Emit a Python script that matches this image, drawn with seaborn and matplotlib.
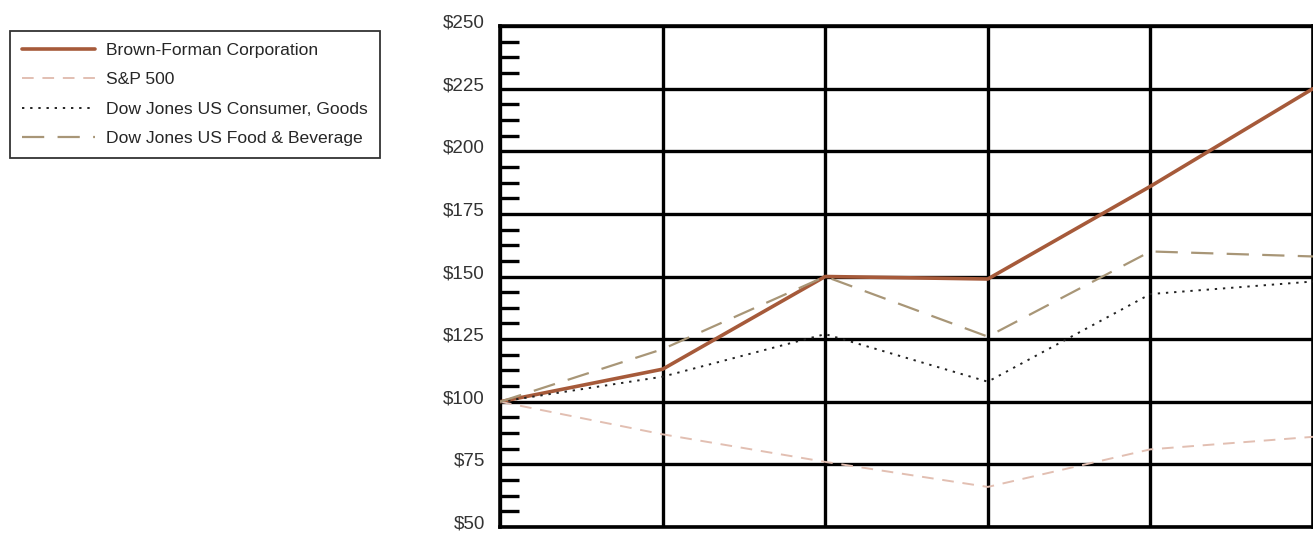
import matplotlib
matplotlib.use("Agg")
import matplotlib.pyplot as plt
import matplotlib.transforms as mtransforms
import seaborn as sns
import pandas as pd
from matplotlib.ticker import MultipleLocator, FuncFormatter

years = [0, 1, 2, 3, 4, 5]
brown_forman = [100, 113, 150, 149, 186, 225]
sp500 = [100, 87, 76, 66, 81, 86]
dj_consumer = [100, 110, 127, 108, 143, 148]
dj_food_bev = [100, 121, 150, 126, 160, 158]
series_names = ["Brown-Forman Corporation", "S&P 500",
                "Dow Jones US Consumer, Goods", "Dow Jones US Food & Beverage"]

df = pd.concat([
    pd.DataFrame({"year": years, "value": v, "series": n})
    for v, n in zip([brown_forman, sp500, dj_consumer, dj_food_bev], series_names)
])

sns.set_theme(style="white")
plt.rcParams["font.family"] = ["Liberation Sans", "DejaVu Sans"]

fig = plt.figure(figsize=(13.13, 5.33), dpi=100)
ax = fig.add_axes([500 / 1313, 6 / 533, 813 / 1313, 501 / 533])

styles = {
    series_names[0]: dict(color="#a65a3a", lw=2.6, ls="-"),
    series_names[1]: dict(color="#e2bfb2", lw=1.4, ls=(0, (6, 4.5))),
    series_names[2]: dict(color="#222222", lw=1.4, ls=(0, (1.2, 3))),
    series_names[3]: dict(color="#a89677", lw=1.6, ls=(0, (10, 6))),
}
handles = []
for name in series_names:
    sub = df[df["series"] == name]
    st = styles[name]
    sns.lineplot(data=sub, x="year", y="value", ax=ax, color=st["color"],
                 linewidth=st["lw"], linestyle=st["ls"], label=name, zorder=3,
                 legend=False)
    handles.append(ax.lines[-1])

ax.set_xlim(0, 5)
ax.set_ylim(50, 250)
ax.yaxis.set_major_locator(MultipleLocator(25))
ax.yaxis.set_minor_locator(MultipleLocator(6.25))
ax.yaxis.set_major_formatter(FuncFormatter(lambda v, p: f"${int(v)}"))
ax.xaxis.set_major_locator(MultipleLocator(1))
ax.set_xticklabels([])
ax.set_xlabel("")
ax.set_ylabel("")
ax.grid(True, which="major", color="black", linewidth=2.4, zorder=1)
ax.set_axisbelow(True)
for s in ax.spines.values():
    s.set_color("black")
    s.set_linewidth(2.6)
ax.tick_params(axis="y", which="major", length=0, pad=11, labelsize=13.5,
               labelcolor="#333333")
ax.tick_params(axis="y", which="minor", direction="in", length=14,
               width=2.4, color="black", left=True)
ax.tick_params(axis="x", which="both", length=0)

offset = mtransforms.ScaledTranslation(0, 5 / 100, fig.dpi_scale_trans)
for lab in ax.get_yticklabels():
    lab.set_transform(lab.get_transform() + offset)

leg = fig.legend(handles=handles, labels=series_names,
                 loc="upper left", bbox_to_anchor=(10 / 1313, 1 - 31 / 533),
                 frameon=True, fancybox=False, fontsize=12.6, handlelength=4.2,
                 handletextpad=0.63, labelspacing=0.8, borderpad=0.68,
                 borderaxespad=0)
leg.get_frame().set_edgecolor("black")
leg.get_frame().set_linewidth(1.3)

fig.savefig("out.png", dpi=100)
